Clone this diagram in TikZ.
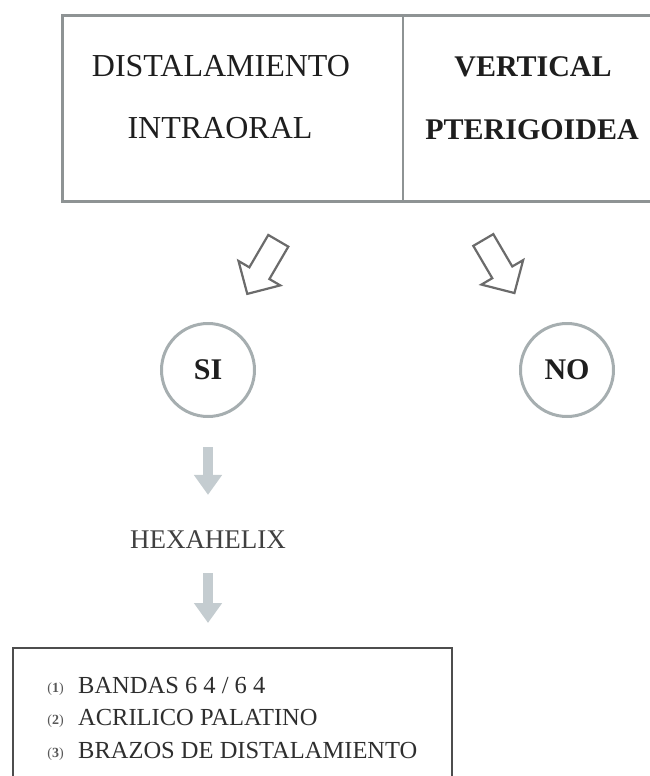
\documentclass[tikz,border=0pt]{standalone}
\usepackage{fontspec}
\setmainfont{Liberation Serif}
\usetikzlibrary{arrows.meta}

\definecolor{framegray}{HTML}{8E9394}
\definecolor{inkdark}{HTML}{1E1E1E}
\definecolor{ringgray}{HTML}{A6AEB0}
\definecolor{blockedge}{HTML}{6B6B6B}
\definecolor{paleblue}{HTML}{C4CCD0}
\definecolor{listframe}{HTML}{4D4D4D}
\definecolor{listink}{HTML}{2E2E2E}

\tikzset{
  topframe/.style={draw=framegray, line width=3bp, rectangle, inner sep=0pt},
  divider/.style={draw=framegray, line width=1.3bp},
  headtext/.style={text=inkdark, inner sep=0pt, anchor=base,
    font=\fontsize{32bp}{38bp}\selectfont},
  headbold/.style={text=inkdark, inner sep=0pt, anchor=base,
    font=\fontsize{30bp}{36bp}\selectfont\bfseries},
  answer/.style={circle, draw=ringgray, line width=3bp, minimum size=93bp,
    inner sep=0pt, text=inkdark, font=\fontsize{30bp}{36bp}\selectfont\bfseries},
  blockarrow/.style={draw=blockedge, line width=2.2bp, line join=miter, fill=white},
  downarrow/.style={draw=paleblue, line width=10bp,
    -{Triangle[width=27bp, length=20bp]}},
  midtext/.style={text=inkdark!85, inner sep=0pt,
    font=\fontsize{27bp}{32bp}\selectfont},
  listframe/.style={draw=listframe, line width=2bp, rectangle, inner sep=0pt},
  listitem/.style={text=listink, inner sep=0pt, anchor=base west,
    font=\fontsize{24.5bp}{30bp}\selectfont},
  listnum/.style={text=listink!80, inner sep=0pt, anchor=base east,
    font=\fontsize{14bp}{16bp}\selectfont},
  pics/hollowarrow/.style={code={
    \draw[blockarrow] (0,-11.6) -- (37.5,-11.6) -- (37.5,-24.2) -- (61.5,0)
      -- (37.5,24.2) -- (37.5,11.6) -- (0,11.6) -- cycle;}}
}

\begin{document}
\begin{tikzpicture}[x=1bp, y=-1bp]
\useasboundingbox (0,0) rectangle (650,776);

% top table with two columns
\node[topframe, minimum width=599bp, minimum height=185bp] (top) at (362.5,108.5) {};
\coordinate (divtop) at (403,16);
\coordinate (divbot) at (403,201);
\draw[divider] (divtop) -- (divbot);

\node[headtext] (dist)  at (221,77)  {DISTALAMIENTO};
\node[headtext] (intra) at (220,138) {INTRAORAL};
\node[headbold] (vert)  at (533,77)  {VERTICAL};
\node[headbold] (pter)  at (532,139) {PTERIGOIDEA};

% hollow block arrows towards the answers
\coordinate (leftTail)  at (278.3,240.8);
\coordinate (rightTail) at (483.3,240.0);
\pic[rotate=-120.3] at (leftTail)  {hollowarrow};
\pic[rotate=-59.6]  at (rightTail) {hollowarrow};

% answers
\node[answer] (si) at (208,370) {SI};
\node[answer] (no) at (567,370) {NO};

% appliance
\node[midtext] (hexa) at (208,540) {HEXAHELIX};

% components box
\node[listframe, minimum width=439bp, minimum height=142bp] (list) at (232.5,719) {};

\node[listnum]  (n1) at (64,692) {(\textbf{1})};
\node[listitem] (i1) at (78,693) {BANDAS 6 4 / 6 4};
\node[listnum]  (n2) at (64,724) {(\textbf{2})};
\node[listitem] (i2) at (78,725) {ACRILICO PALATINO};
\node[listnum]  (n3) at (64,757) {(\textbf{3})};
\node[listitem] (i3) at (78,758) {BRAZOS DE DISTALAMIENTO};

% light down arrows
\draw[downarrow, shorten <=29bp, shorten >=36bp] (si.south) -- (hexa.north);
\draw[downarrow, shorten <=24bp, shorten >=24bp] (hexa.south) -- (hexa.south |- list.north);
\end{tikzpicture}
\end{document}
